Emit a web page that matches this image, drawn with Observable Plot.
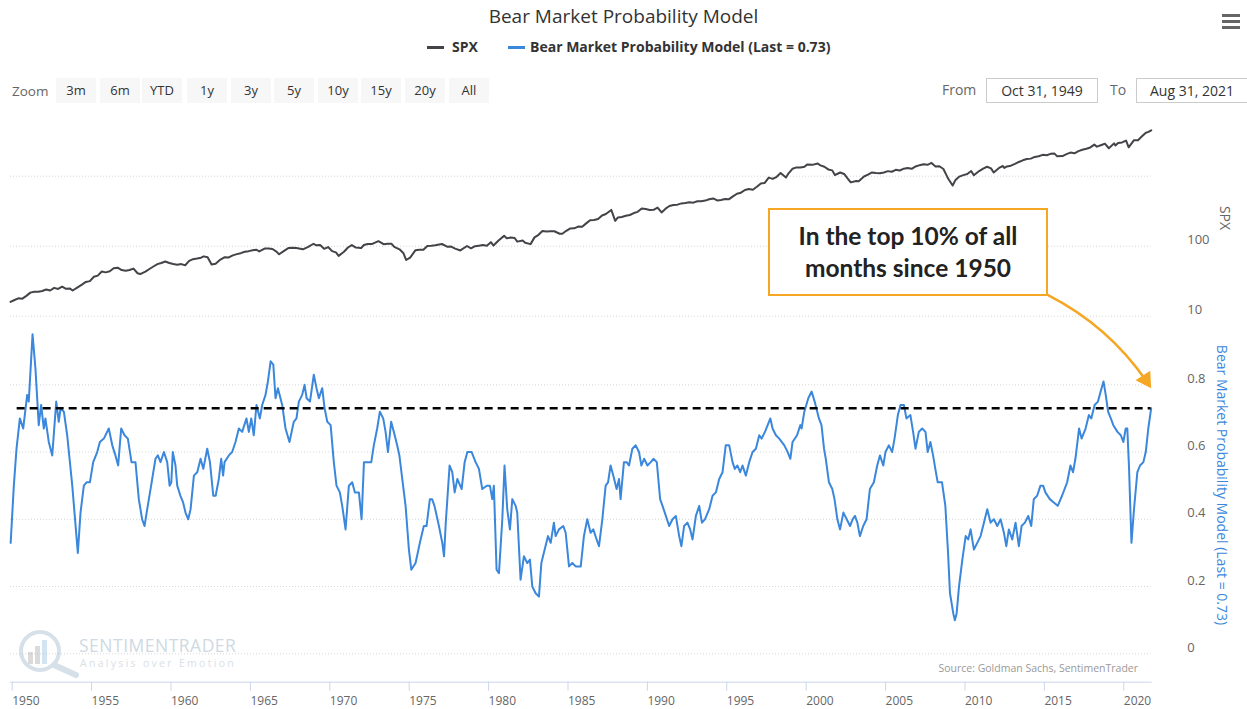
<!DOCTYPE html>
<html>
<head>
<meta charset="utf-8">
<script src="https://cdn.jsdelivr.net/npm/d3@7"></script>
<script src="https://cdn.jsdelivr.net/npm/@observablehq/plot@0.6"></script>
<style>
html,body{margin:0;padding:0;background:#fff;}
#root{position:relative;width:1247px;height:709px;overflow:hidden;font-family:"Open Sans",sans-serif;background:#fff;}
.abs{position:absolute;white-space:nowrap;}
.plotwrap{position:absolute;left:0;}
.btn{position:absolute;top:78px;height:25px;width:40px;background:#f7f7f7;color:#333;font-size:13px;line-height:25px;text-align:center;}
.inp{position:absolute;top:78px;height:23px;width:110px;border:1px solid #cccccc;color:#333;font-size:14px;line-height:23px;text-align:center;background:#fff;}
</style>
</head>
<body>
<div id="root"></div>
<script>
// ---------------- DATA ----------------
const chartTitle = "Bear Market Probability Model";
const spxName = "SPX";
const probName = "Bear Market Probability Model (Last = 0.73)";
const sourceText = "Source: Goldman Sachs, SentimenTrader";
const zoomButtons = ["3m","6m","YTD","1y","3y","5y","10y","15y","20y","All"];
const fromDate = "Oct 31, 1949";
const toDate = "Aug 31, 2021";
const yearTickLabels = [1950,1955,1960,1965,1970,1975,1980,1985,1990,1995,2000,2005,2010,2015,2020];
const spxTicks = [10,100,1000];
const spxTickLabels = [10,100];
const probTicks = [0,0.2,0.4,0.6,0.8];

// S&P 500 month-end closes [YYYY-MM, value]
const spx = [
["1949-10",16.0],["1950-01",17.05],["1950-04",18.0],["1950-07",17.8],["1950-10",19.5],["1951-01",21.7],["1951-04",22.4],["1951-07",22.4],["1951-10",22.9],
["1952-01",24.1],["1952-04",23.3],["1952-07",25.4],["1952-10",24.5],["1953-01",26.4],["1953-04",24.6],["1953-07",24.8],["1953-09",23.3],["1954-01",26.1],
["1954-04",28.3],["1954-07",30.9],["1954-10",31.7],["1955-01",36.6],["1955-04",37.96],["1955-07",43.5],["1955-10",42.3],["1956-01",43.8],["1956-04",48.4],
["1956-07",49.4],["1956-10",45.6],["1957-01",44.7],["1957-04",45.7],["1957-07",47.9],["1957-10",41.1],["1957-12",40.0],["1958-04",43.4],["1958-07",47.2],
["1958-10",51.3],["1959-01",55.4],["1959-04",57.6],["1959-07",60.5],["1959-10",57.5],["1960-01",55.6],["1960-04",54.4],["1960-07",55.5],["1960-10",53.4],
["1961-01",61.8],["1961-04",65.3],["1961-07",66.8],["1961-10",68.6],["1961-12",71.6],["1962-03",69.6],["1962-06",54.75],["1962-09",56.3],["1962-12",63.1],
["1963-04",69.8],["1963-07",69.1],["1963-10",74.0],["1964-01",77.0],["1964-04",79.5],["1964-07",83.2],["1964-10",85.0],["1965-01",87.6],["1965-04",89.1],
["1965-06",84.1],["1965-10",92.4],["1966-01",92.9],["1966-04",91.1],["1966-07",83.6],["1966-09",76.6],["1967-01",86.6],["1967-04",94.0],["1967-07",94.8],
["1967-10",93.9],["1968-01",92.2],["1968-03",90.2],["1968-07",97.7],["1968-11",108.4],["1969-01",103.0],["1969-04",103.7],["1969-07",91.8],["1969-10",97.2],
["1970-01",85.0],["1970-04",81.5],["1970-06",72.7],["1970-10",83.3],["1971-01",95.9],["1971-04",103.9],["1971-07",95.6],["1971-11",94.0],["1972-01",103.9],
["1972-04",107.7],["1972-07",107.2],["1972-12",118.1],["1973-04",106.97],["1973-07",108.2],["1973-10",108.3],["1973-12",97.6],["1974-04",90.3],["1974-07",79.3],
["1974-09",63.5],["1974-12",68.6],["1975-04",87.3],["1975-07",88.8],["1975-10",89.0],["1976-01",100.9],["1976-04",101.6],["1976-07",103.4],["1976-12",107.5],
["1977-04",98.4],["1977-07",98.9],["1977-10",92.3],["1978-02",87.0],["1978-07",100.7],["1978-10",93.2],["1979-01",99.9],["1979-04",101.8],["1979-07",103.8],
["1979-10",101.8],["1980-01",114.2],["1980-03",102.1],["1980-07",121.7],["1980-11",140.5],["1981-01",129.6],["1981-04",132.8],["1981-07",130.9],["1981-09",116.2],
["1982-01",120.4],["1982-03",111.96],["1982-07",107.1],["1982-10",133.7],["1983-01",145.3],["1983-04",164.4],["1983-07",162.6],["1983-10",163.6],["1984-01",163.4],
["1984-05",150.6],["1984-07",150.7],["1984-10",166.1],["1985-01",179.6],["1985-04",179.8],["1985-07",190.9],["1985-10",189.8],["1986-01",211.8],["1986-04",235.5],
["1986-07",236.1],["1986-10",243.98],["1987-01",274.1],["1987-04",288.4],["1987-08",329.8],["1987-11",230.3],["1988-01",257.1],["1988-04",261.3],["1988-07",272.0],
["1988-10",278.97],["1989-01",297.5],["1989-04",309.6],["1989-07",346.1],["1989-10",340.4],["1990-01",329.1],["1990-04",330.8],["1990-07",356.2],["1990-10",304.0],
["1991-01",343.9],["1991-04",375.3],["1991-07",387.8],["1991-10",392.5],["1992-01",408.8],["1992-04",414.95],["1992-07",424.2],["1992-10",418.7],["1993-01",438.8],
["1993-04",440.2],["1993-07",448.1],["1993-10",467.8],["1994-01",481.6],["1994-04",450.9],["1994-07",458.3],["1994-10",472.4],["1995-01",470.4],["1995-04",514.7],
["1995-07",562.1],["1995-10",581.5],["1996-01",636.0],["1996-04",654.2],["1996-07",639.95],["1996-10",705.3],["1997-01",786.2],["1997-04",801.3],["1997-07",954.3],
["1997-10",914.6],["1998-01",980.3],["1998-04",1111.75],["1998-08",957.3],["1998-10",1098.7],["1999-01",1279.6],["1999-04",1335.2],["1999-07",1328.7],["1999-10",1362.9],
["1999-12",1469.3],["2000-04",1452.4],["2000-08",1517.7],["2000-10",1429.4],["2001-01",1366.0],["2001-04",1249.5],["2001-07",1211.2],["2001-09",1040.9],["2002-01",1130.2],
["2002-04",1076.9],["2002-07",911.6],["2002-09",815.3],["2003-01",855.7],["2003-03",848.2],["2003-07",990.3],["2003-10",1050.7],["2004-01",1131.1],["2004-04",1107.3],
["2004-07",1101.7],["2004-10",1130.2],["2005-01",1181.3],["2005-04",1156.9],["2005-07",1234.2],["2005-10",1207.0],["2006-01",1280.1],["2006-04",1310.6],["2006-07",1276.7],
["2006-10",1377.9],["2007-01",1438.2],["2007-04",1482.4],["2007-07",1455.3],["2007-10",1549.4],["2008-01",1378.6],["2008-04",1385.6],["2008-07",1267.4],["2008-10",968.75],
["2008-11",896.2],["2009-02",735.1],["2009-04",872.8],["2009-07",987.5],["2009-10",1036.2],["2010-01",1073.9],["2010-04",1186.7],["2010-06",1030.7],["2010-10",1183.3],
["2011-01",1286.1],["2011-04",1363.6],["2011-07",1292.3],["2011-09",1131.4],["2012-01",1312.4],["2012-04",1397.9],["2012-05",1310.3],["2012-07",1379.3],["2012-10",1412.2],
["2013-01",1498.1],["2013-04",1597.6],["2013-07",1685.7],["2013-10",1756.5],["2014-01",1782.6],["2014-04",1883.95],["2014-07",1930.7],["2014-10",2018.1],["2015-01",1994.99],
["2015-04",2085.5],["2015-07",2103.8],["2015-09",1920.0],["2016-01",1940.2],["2016-04",2065.3],["2016-07",2173.6],["2016-10",2126.2],["2017-01",2278.9],["2017-04",2384.2],
["2017-07",2470.3],["2017-10",2575.3],["2018-01",2823.8],["2018-03",2640.9],["2018-07",2816.3],["2018-09",2914.0],["2018-12",2506.9],["2019-04",2945.8],["2019-05",2752.1],
["2019-07",2980.4],["2019-10",3037.6],["2020-01",3225.5],["2020-03",2584.6],["2020-07",3271.1],["2020-10",3269.96],["2021-01",3714.2],["2021-04",4181.2],["2021-06",4297.5],
["2021-08",4522.7]
];

// Bear market probability [decimal year, value]
const bearProb = [
[1949.84,0.33],[1950.04,0.50],[1950.21,0.61],[1950.42,0.70],[1950.63,0.67],[1950.88,0.77],[1950.98,0.75],[1951.22,0.95],[1951.40,0.85],[1951.61,0.68],
[1951.76,0.74],[1951.93,0.67],[1952.03,0.70],[1952.24,0.63],[1952.46,0.59],[1952.71,0.75],[1952.87,0.69],[1952.98,0.73],[1953.19,0.72],[1953.40,0.65],
[1953.72,0.50],[1953.86,0.42],[1954.07,0.30],[1954.24,0.42],[1954.45,0.50],[1954.62,0.51],[1954.83,0.51],[1955.04,0.57],[1955.29,0.60],[1955.46,0.63],
[1955.71,0.64],[1956.02,0.67],[1956.24,0.62],[1956.44,0.59],[1956.61,0.56],[1956.80,0.67],[1957.01,0.65],[1957.22,0.64],[1957.45,0.57],[1957.70,0.57],
[1957.91,0.46],[1958.12,0.40],[1958.27,0.38],[1958.44,0.43],[1958.65,0.49],[1958.96,0.58],[1959.11,0.59],[1959.28,0.57],[1959.49,0.60],[1959.70,0.57],
[1959.85,0.50],[1959.96,0.51],[1960.05,0.60],[1960.22,0.56],[1960.33,0.50],[1960.53,0.47],[1960.70,0.45],[1960.85,0.42],[1961.02,0.40],[1961.17,0.43],
[1961.38,0.53],[1961.59,0.54],[1961.80,0.58],[1961.97,0.55],[1962.22,0.61],[1962.39,0.57],[1962.60,0.47],[1962.75,0.47],[1962.95,0.52],[1963.10,0.58],
[1963.22,0.53],[1963.31,0.57],[1963.58,0.59],[1963.79,0.60],[1964.00,0.63],[1964.21,0.67],[1964.42,0.66],[1964.69,0.70],[1964.84,0.66],[1964.99,0.70],
[1965.15,0.65],[1965.32,0.74],[1965.53,0.70],[1965.68,0.74],[1965.89,0.77],[1966.04,0.81],[1966.21,0.87],[1966.38,0.86],[1966.52,0.76],[1966.67,0.79],
[1966.94,0.74],[1967.15,0.67],[1967.40,0.63],[1967.67,0.69],[1967.84,0.70],[1967.99,0.75],[1968.20,0.77],[1968.35,0.80],[1968.48,0.76],[1968.69,0.75],
[1968.93,0.83],[1969.10,0.79],[1969.25,0.76],[1969.46,0.79],[1969.61,0.73],[1969.78,0.69],[1969.99,0.68],[1970.19,0.57],[1970.36,0.50],[1970.57,0.48],
[1970.72,0.44],[1970.93,0.37],[1971.14,0.50],[1971.35,0.51],[1971.52,0.48],[1971.77,0.48],[1971.94,0.40],[1972.09,0.57],[1972.30,0.57],[1972.55,0.57],
[1972.71,0.62],[1972.92,0.67],[1973.09,0.72],[1973.30,0.70],[1973.45,0.66],[1973.60,0.60],[1973.80,0.69],[1973.97,0.66],[1974.18,0.62],[1974.32,0.59],
[1974.50,0.52],[1974.71,0.44],[1974.92,0.31],[1975.07,0.25],[1975.34,0.27],[1975.61,0.33],[1975.86,0.38],[1976.03,0.38],[1976.24,0.46],[1976.38,0.46],
[1976.53,0.44],[1976.81,0.38],[1977.02,0.33],[1977.13,0.29],[1977.24,0.39],[1977.34,0.46],[1977.48,0.56],[1977.65,0.54],[1977.80,0.48],[1977.97,0.52],
[1978.24,0.49],[1978.43,0.57],[1978.60,0.60],[1978.87,0.60],[1979.12,0.57],[1979.33,0.55],[1979.54,0.49],[1979.82,0.50],[1980.02,0.50],[1980.17,0.46],
[1980.27,0.50],[1980.44,0.25],[1980.59,0.24],[1980.80,0.40],[1980.94,0.56],[1981.11,0.43],[1981.28,0.37],[1981.43,0.46],[1981.64,0.44],[1981.74,0.42],
[1981.95,0.22],[1982.16,0.29],[1982.37,0.27],[1982.54,0.28],[1982.69,0.20],[1982.90,0.18],[1983.11,0.17],[1983.26,0.27],[1983.47,0.31],[1983.68,0.35],
[1983.85,0.33],[1984.05,0.39],[1984.16,0.35],[1984.37,0.37],[1984.64,0.38],[1984.79,0.36],[1985.00,0.26],[1985.21,0.27],[1985.42,0.26],[1985.74,0.26],
[1985.94,0.35],[1986.15,0.40],[1986.36,0.36],[1986.53,0.37],[1986.74,0.34],[1986.89,0.32],[1987.10,0.40],[1987.31,0.50],[1987.46,0.51],[1987.62,0.56],
[1987.79,0.53],[1988.00,0.49],[1988.15,0.52],[1988.25,0.46],[1988.46,0.57],[1988.63,0.57],[1988.78,0.56],[1988.99,0.61],[1989.20,0.62],[1989.41,0.60],
[1989.56,0.56],[1989.73,0.58],[1989.94,0.56],[1990.15,0.57],[1990.32,0.58],[1990.53,0.57],[1990.74,0.46],[1990.89,0.44],[1991.10,0.41],[1991.31,0.38],
[1991.52,0.40],[1991.73,0.41],[1991.94,0.35],[1992.08,0.32],[1992.25,0.38],[1992.46,0.39],[1992.63,0.37],[1992.78,0.34],[1992.99,0.41],[1993.20,0.44],
[1993.37,0.39],[1993.56,0.40],[1993.83,0.43],[1994.04,0.47],[1994.25,0.48],[1994.46,0.52],[1994.67,0.54],[1994.87,0.62],[1995.09,0.62],[1995.30,0.57],
[1995.44,0.55],[1995.61,0.56],[1995.78,0.54],[1995.93,0.56],[1996.14,0.53],[1996.35,0.57],[1996.56,0.60],[1996.77,0.61],[1996.98,0.65],[1997.13,0.64],
[1997.34,0.66],[1997.51,0.68],[1997.68,0.70],[1997.82,0.67],[1998.03,0.65],[1998.24,0.64],[1998.56,0.62],[1998.77,0.60],[1998.94,0.58],[1999.08,0.63],
[1999.36,0.65],[1999.57,0.68],[1999.65,0.67],[1999.82,0.72],[2000.07,0.76],[2000.28,0.78],[2000.47,0.75],[2000.74,0.70],[2000.90,0.68],[2001.06,0.61],
[2001.17,0.58],[2001.37,0.51],[2001.58,0.49],[2001.72,0.46],[2001.90,0.40],[2002.07,0.37],[2002.28,0.42],[2002.49,0.40],[2002.70,0.38],[2002.86,0.40],
[2003.01,0.41],[2003.16,0.39],[2003.32,0.35],[2003.53,0.38],[2003.74,0.40],[2003.95,0.49],[2004.20,0.51],[2004.41,0.56],[2004.58,0.59],[2004.79,0.56],
[2004.93,0.60],[2005.14,0.62],[2005.35,0.60],[2005.50,0.64],[2005.71,0.71],[2005.88,0.74],[2006.09,0.74],[2006.25,0.70],[2006.50,0.71],[2006.67,0.66],
[2006.82,0.61],[2007.03,0.66],[2007.24,0.67],[2007.45,0.66],[2007.59,0.60],[2007.76,0.63],[2007.93,0.59],[2008.07,0.55],[2008.22,0.51],[2008.49,0.51],
[2008.70,0.44],[2008.87,0.30],[2008.99,0.18],[2009.20,0.12],[2009.30,0.10],[2009.41,0.12],[2009.56,0.20],[2009.77,0.28],[2009.98,0.35],[2010.14,0.34],
[2010.29,0.37],[2010.50,0.31],[2010.71,0.33],[2010.92,0.35],[2011.13,0.39],[2011.34,0.43],[2011.55,0.39],[2011.76,0.40],[2011.97,0.38],[2012.18,0.40],
[2012.39,0.36],[2012.54,0.32],[2012.70,0.37],[2012.91,0.34],[2013.12,0.39],[2013.33,0.32],[2013.50,0.38],[2013.71,0.39],[2013.92,0.41],[2014.11,0.38],
[2014.27,0.46],[2014.48,0.47],[2014.69,0.50],[2014.86,0.50],[2015.00,0.48],[2015.28,0.46],[2015.53,0.45],[2015.78,0.44],[2016.05,0.47],[2016.37,0.51],
[2016.58,0.56],[2016.74,0.54],[2016.89,0.58],[2017.12,0.67],[2017.28,0.64],[2017.53,0.67],[2017.74,0.71],[2017.89,0.70],[2018.10,0.74],[2018.31,0.75],
[2018.48,0.78],[2018.66,0.81],[2018.80,0.77],[2018.95,0.72],[2019.12,0.70],[2019.28,0.68],[2019.54,0.66],[2019.75,0.65],[2019.91,0.63],[2020.06,0.67],
[2020.16,0.67],[2020.27,0.55],[2020.42,0.33],[2020.58,0.43],[2020.79,0.54],[2020.96,0.56],[2021.17,0.57],[2021.32,0.60],[2021.48,0.67],[2021.66,0.73]
];

// threshold line (last value) and annotation
const thresholdLine = [{from: 1950.25, to: 2021.66, value: 0.73}];
const annotationArrow = [{from: 2015.2, fromValue: 1.066, to: 2021.66, toValue: 0.79}];
const annotationText = ["In the top 10% of all", "months since 1950"];

// ---------------- HELPERS ----------------
const decToDate = t => { const y = Math.floor(t); const a = Date.UTC(y,0,1), b = Date.UTC(y+1,0,1); return new Date(a + (t - y) * (b - a)); };
const monthEnd = s => { const [y, m] = s.split("-").map(Number); return new Date(Date.UTC(y, m, 0)); };

const spxData = spx.map(([d, v]) => ({date: monthEnd(d), value: v}));
const probData = bearProb.map(([t, v]) => ({date: decToDate(t), value: v}));
const thrData = thresholdLine.map(d => ({from: decToDate(d.from), to: decToDate(d.to), value: d.value}));
const arrData = annotationArrow.map(d => ({x1: decToDate(d.from), y1: d.fromValue, x2: decToDate(d.to), y2: d.toValue}));
const yearTicks = yearTickLabels.map(y => new Date(Date.UTC(y, 0, 1)));

const xDomain = [monthEnd(spx[0][0]), monthEnd(spx[spx.length - 1][0])];
const W = 1247, ML = 10, MR = 96.3;
const baseStyle = {background: "transparent", overflow: "visible", fontFamily: "Open Sans, sans-serif", fontSize: "12px", color: "#666"};

const root = document.getElementById("root");

// ---------------- TOP PANEL (SPX, log) ----------------
const topPlot = Plot.plot({
  width: W, height: 218, marginLeft: ML, marginRight: MR, marginTop: 0, marginBottom: 0,
  style: baseStyle,
  x: {type: "utc", domain: xDomain, axis: null},
  y: {type: "log", domain: [10, 1000], range: [215.7, 75.7], label: null, axis: null},
  marks: [
    Plot.gridY(spxTicks, {stroke: "#d6d6d6", strokeOpacity: 1, strokeDasharray: "1,2"}),
    Plot.axisY(spxTickLabels, {anchor: "right", tickSize: 0, tickPadding: 36, dy: -6, fill: "#666", fontSize: 13, tickFormat: d => String(d), label: null}),
    Plot.line(spxData, {x: "date", y: "value", stroke: "#434348", strokeWidth: 2})
  ]
});
const topWrap = document.createElement("div");
topWrap.className = "plotwrap"; topWrap.style.top = "100px";
topWrap.appendChild(topPlot);
root.appendChild(topWrap);

// ---------------- BOTTOM PANEL (probability) ----------------
const headAngle = 57; // direction of the arrow tip, degrees below horizontal
const botPlot = Plot.plot({
  width: W, height: 391, marginLeft: ML, marginRight: MR, marginTop: 0, marginBottom: 27.3,
  style: baseStyle,
  x: {type: "utc", domain: xDomain, label: null},
  y: {domain: [0, 0.8], range: [335.3, 66.3], label: null},
  marks: [
    Plot.gridY(probTicks, {stroke: "#d6d6d6", strokeOpacity: 1, strokeDasharray: "1,2"}),
    Plot.axisY(probTicks, {anchor: "right", tickSize: 0, tickPadding: 36, dy: -6, fill: "#666", fontSize: 13, tickFormat: d => d === 0 ? "0" : d3.format(".1f")(d), label: null}),
    Plot.frame({anchor: "bottom", stroke: "#ccd6eb", strokeOpacity: 1}),
    Plot.axisX(yearTicks, {anchor: "bottom", tickSize: 9, tickPadding: 5, stroke: "#ccd6eb", strokeOpacity: 1, fill: "#666", textAnchor: "start", dx: -1, fontSize: 12, tickFormat: d => String(d.getUTCFullYear()), label: null}),
    Plot.line(probData, {x: "date", y: "value", stroke: "#3a87dc", strokeWidth: 2}),
    Plot.ruleY(thrData, {x1: "from", x2: "to", y: "value", stroke: "#000", strokeWidth: 2.5, strokeDasharray: "8,5"}),
    Plot.arrow(arrData, {x1: "x1", y1: "y1", x2: "x2", y2: "y2", bend: 15, stroke: "#f5a623", strokeWidth: 2.5, headLength: 0, insetEnd: 9}),
    Plot.dot(arrData, {x: "x2", y: "y2", symbol: "triangle", r: 6.5, fill: "#f5a623", stroke: "none",
      rotate: headAngle + 90, dx: -Math.cos(headAngle * Math.PI / 180) * 10.1, dy: -Math.sin(headAngle * Math.PI / 180) * 10.1})
  ]
});
const botWrap = document.createElement("div");
botWrap.className = "plotwrap"; botWrap.style.top = "318px";
botWrap.appendChild(botPlot);
root.appendChild(botWrap);

// ---------------- HTML DECORATIONS ----------------
function add(html) { root.insertAdjacentHTML("beforeend", html); }

// title
add(`<div class="abs" style="left:0;top:3px;width:1247px;text-align:center;font-size:19px;color:#333;">${chartTitle}</div>`);
// hamburger
add(`<div class="abs" style="left:1222px;top:14px;width:18px;height:3px;background:#666"></div>
     <div class="abs" style="left:1222px;top:20px;width:18px;height:3px;background:#666"></div>
     <div class="abs" style="left:1222px;top:26px;width:18px;height:3px;background:#666"></div>`);
// legend
add(`<div class="abs" style="left:427px;top:46px;width:17px;height:3px;background:#434348"></div>
     <div class="abs" style="left:452px;top:37px;font-size:14px;line-height:20px;font-weight:700;color:#333;">${spxName}</div>
     <div class="abs" style="left:508px;top:46px;width:17px;height:3px;background:#3a87dc"></div>
     <div class="abs" style="left:530px;top:37px;font-size:14px;line-height:20px;font-weight:700;color:#333;">${probName}</div>`);
// range selector
add(`<div class="abs" style="left:12px;top:81px;font-size:13.5px;line-height:20px;color:#666;">Zoom</div>`);
const btnLeft = [56,100,142,187,231,274,318,361,405,449];
zoomButtons.forEach((b, i) => add(`<div class="btn" style="left:${btnLeft[i]}px">${b}</div>`));
add(`<div class="abs" style="left:942px;top:80px;font-size:14px;line-height:20px;color:#666;">From</div>
     <div class="inp" style="left:986px">${fromDate}</div>
     <div class="abs" style="left:1110px;top:80px;font-size:14px;line-height:20px;color:#666;">To</div>
     <div class="inp" style="left:1136px">${toDate}</div>`);
// axis titles (rotated)
add(`<div class="abs" style="left:1225px;top:218px;transform:translate(-50%,-50%) rotate(90deg);font-size:14px;line-height:16px;color:#666;">${spxName}</div>`);
add(`<div class="abs" style="left:1222px;top:485px;transform:translate(-50%,-50%) rotate(90deg);font-size:14px;line-height:16px;color:#3a87dc;">${probName}</div>`);
// annotation box
add(`<div class="abs" style="left:768px;top:208px;width:276px;height:84px;border:2px solid #f5a623;background:#fff;display:flex;flex-direction:column;justify-content:center;align-items:center;font-family:Lato,'Open Sans',sans-serif;font-size:24.5px;font-weight:700;color:#222;line-height:32px;">
  <div>${annotationText[0]}</div><div>${annotationText[1]}</div></div>`);
// source
add(`<div class="abs" style="right:${1247-1138}px;top:661px;font-size:10.5px;line-height:14px;color:#999;">${sourceText}</div>`);
// watermark
add(`<svg class="abs" style="left:14px;top:628px;opacity:0.35" width="70" height="52" viewBox="0 0 70 52">
  <circle cx="26" cy="23" r="19" fill="none" stroke="#8aa7bf" stroke-width="4"/>
  <rect x="14" y="24" width="5" height="12" fill="#9a9a9a"/><rect x="21" y="18" width="5" height="18" fill="#9a9a9a"/><rect x="28" y="12" width="5" height="24" fill="#7fb0d8"/>
  <line x1="40" y1="37" x2="62" y2="47" stroke="#8aa7bf" stroke-width="6" stroke-linecap="round"/></svg>`);
add(`<div class="abs" style="left:79px;top:637px;font-size:17.5px;line-height:17px;color:#cfd9e3;letter-spacing:0.5px;">SENTIMENTRADER</div>
     <div class="abs" style="left:80px;top:658px;font-size:10.5px;line-height:11px;color:#d9e0e7;letter-spacing:2.3px;">Analysis over Emotion</div>`);
</script>
</body>
</html>
